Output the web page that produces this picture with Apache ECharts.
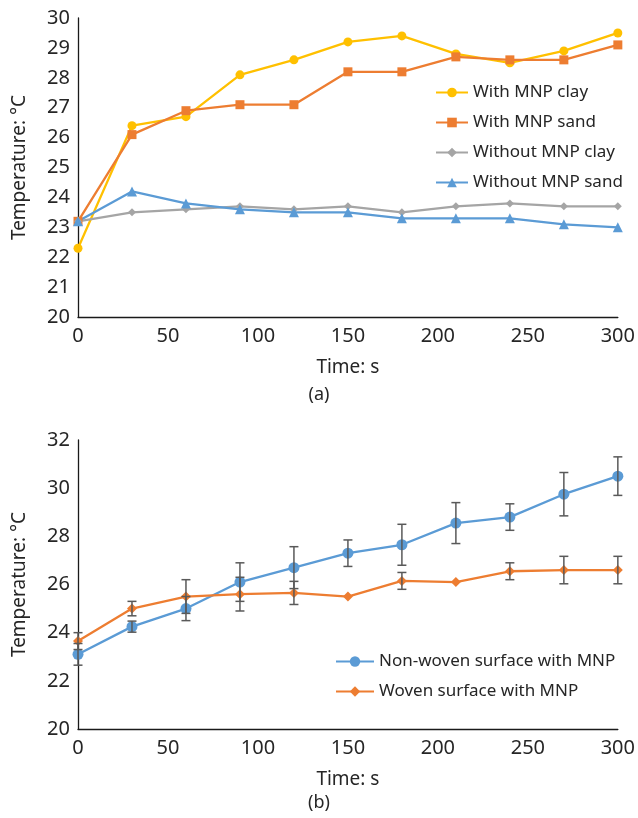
<!DOCTYPE html>
<html>
<head>
<meta charset="utf-8">
<script src="https://cdn.jsdelivr.net/npm/echarts@6/dist/echarts.min.js"></script>
<style>html,body{margin:0;padding:0;background:#fff;}#c{width:638px;height:818px;}</style>
</head>
<body>
<div id="c"></div>
<script>
var times = [0, 30, 60, 90, 120, 150, 180, 210, 240, 270, 300];
// Chart (a)
var withMnpClay = [22.3, 26.4, 26.7, 28.1, 28.6, 29.2, 29.4, 28.8, 28.5, 28.9, 29.5];
var withMnpSand = [23.2, 26.1, 26.9, 27.1, 27.1, 28.2, 28.2, 28.7, 28.6, 28.6, 29.1];
var withoutMnpClay = [23.2, 23.5, 23.6, 23.7, 23.6, 23.7, 23.5, 23.7, 23.8, 23.7, 23.7];
var withoutMnpSand = [23.2, 24.2, 23.8, 23.6, 23.5, 23.5, 23.3, 23.3, 23.3, 23.1, 23.0];
// Chart (b)
var nonWoven = [23.1, 24.25, 25.0, 26.1, 26.7, 27.3, 27.65, 28.55, 28.8, 29.75, 30.5];
var nonWovenErr = [0.45, 0.23, 0.5, 0.8, 0.87, 0.55, 0.85, 0.85, 0.55, 0.9, 0.8];
var woven = [23.65, 25.0, 25.5, 25.6, 25.65, 25.5, 26.15, 26.1, 26.55, 26.6, 26.6];
var wovenErr = [0.35, 0.3, 0.7, 0.7, 0.48, 0.0, 0.35, 0.0, 0.35, 0.57, 0.57];

var namesA = ['With MNP clay', 'With MNP sand', 'Without MNP clay', 'Without MNP sand'];
var namesB = ['Non-woven surface with MNP', 'Woven surface with MNP'];

var FONT = 'Noto Sans';
var TXT = '#262626';

function pairs(xs, ys) { return xs.map(function (x, i) { return [x, ys[i]]; }); }
function errData(xs, ys, es) { return xs.map(function (x, i) { return [x, ys[i] - es[i], ys[i] + es[i]]; }); }

function errRender(params, api) {
  var x = api.value(0);
  var lo = api.coord([x, api.value(1)]);
  var hi = api.coord([x, api.value(2)]);
  if (Math.abs(hi[1] - lo[1]) < 1) return null;
  var w = 4.5;
  var st = { stroke: '#595959', lineWidth: 1.5 };
  return {
    type: 'group',
    children: [
      { type: 'line', shape: { x1: lo[0], y1: lo[1], x2: hi[0], y2: hi[1] }, style: st },
      { type: 'line', shape: { x1: lo[0] - w, y1: lo[1], x2: lo[0] + w, y2: lo[1] }, style: st },
      { type: 'line', shape: { x1: hi[0] - w, y1: hi[1], x2: hi[0] + w, y2: hi[1] }, style: st }
    ]
  };
}

var axisLine = { show: true, lineStyle: { color: '#1a1a1a', width: 1.3 } };
function xAxis(gi) {
  return {
    type: 'value', gridIndex: gi, min: 0, max: 300, interval: 50,
    axisLine: axisLine, axisTick: { show: false }, splitLine: { show: false },
    axisLabel: { fontFamily: FONT, fontSize: 20, color: TXT, margin: 9 },
    name: 'Time: s', nameLocation: 'middle', nameGap: 41,
    nameTextStyle: { fontFamily: FONT, fontSize: 19, color: TXT }
  };
}
function yAxis(gi, mn, mx, iv) {
  return {
    type: 'value', gridIndex: gi, min: mn, max: mx, interval: iv,
    axisLine: axisLine, axisTick: { show: false }, splitLine: { show: false },
    axisLabel: { fontFamily: FONT, fontSize: 20, color: TXT, margin: 8 },
    name: 'Temperature: °C', nameLocation: 'middle', nameGap: 49,
    nameTextStyle: { fontFamily: FONT, fontSize: 19, color: TXT }
  };
}

var colors = { yellow: '#FFC000', orange: '#ED7D31', grey: '#A5A5A5', blue: '#5B9BD5' };

function lineSeries(name, data, color, symbol, size, gi) {
  return {
    type: 'line', name: name, xAxisIndex: gi, yAxisIndex: gi,
    data: pairs(times, data), symbol: symbol, symbolSize: size,
    showSymbol: true, animation: false,
    lineStyle: { color: color, width: 2.3 },
    itemStyle: { color: color }
  };
}

var chart = echarts.init(document.getElementById('c'), null, { renderer: 'canvas' });
chart.setOption({
  backgroundColor: '#fff',
  animation: false,
  grid: [
    { left: 78, right: 17, top: 18, bottom: 501, containLabel: false },
    { left: 78, right: 17, top: 440, bottom: 89, containLabel: false }
  ],
  xAxis: [xAxis(0), xAxis(1)],
  yAxis: [yAxis(0, 20, 30, 1), yAxis(1, 20, 32, 2)],
  legend: [
    {
      data: namesA, orient: 'vertical', left: 430, top: 79,
      itemWidth: 32, itemHeight: 12, itemGap: 13,
      textStyle: { fontFamily: FONT, fontSize: 17, color: TXT }
    },
    {
      data: namesB, orient: 'vertical', left: 330, top: 648,
      itemWidth: 38, itemHeight: 13, itemGap: 13,
      textStyle: { fontFamily: FONT, fontSize: 17, color: TXT }
    }
  ],
  graphic: [
    { type: 'text', left: 'center', top: 386, style: { text: '(a)', font: '18px "Noto Sans"', fill: TXT } },
    { type: 'text', left: 'center', top: 794, style: { text: '(b)', font: '18px "Noto Sans"', fill: TXT } }
  ],
  series: [
    lineSeries(namesA[0], withMnpClay, colors.yellow, 'circle', 9, 0),
    lineSeries(namesA[1], withMnpSand, colors.orange, 'rect', 9, 0),
    lineSeries(namesA[2], withoutMnpClay, colors.grey, 'diamond', 8, 0),
    lineSeries(namesA[3], withoutMnpSand, colors.blue, 'triangle', 10, 0),
    lineSeries(namesB[0], nonWoven, colors.blue, 'circle', 11, 1),
    lineSeries(namesB[1], woven, colors.orange, 'diamond', 10, 1),
    {
      type: 'custom', xAxisIndex: 1, yAxisIndex: 1, z: 5,
      data: errData(times, nonWoven, nonWovenErr), renderItem: errRender
    },
    {
      type: 'custom', xAxisIndex: 1, yAxisIndex: 1, z: 5,
      data: errData(times, woven, wovenErr), renderItem: errRender
    }
  ]
});
</script>
</body>
</html>
